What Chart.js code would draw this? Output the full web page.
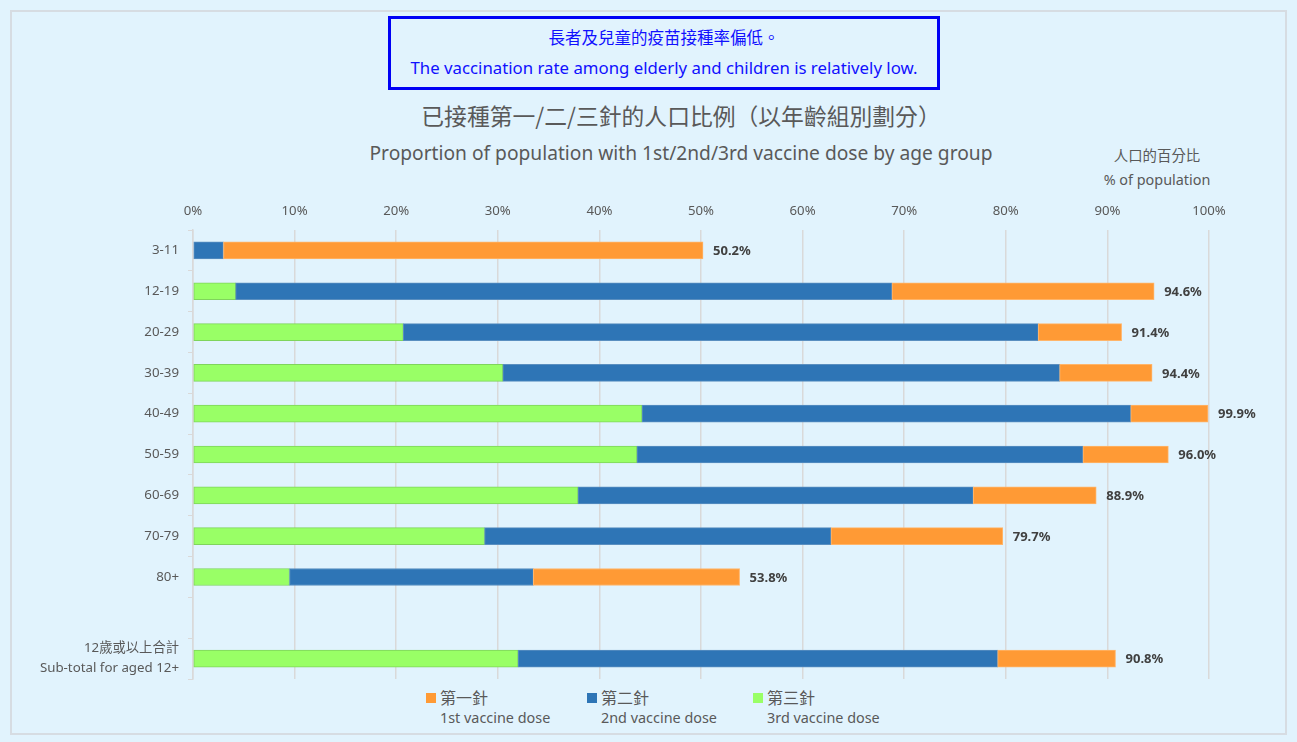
<!DOCTYPE html>
<html>
<head>
<meta charset="utf-8">
<script src="https://cdn.jsdelivr.net/npm/chart.js@4.4.1/dist/chart.umd.min.js"></script>
<style>
  html, body { margin: 0; padding: 0; background: #e1f3fd; }
  body { width: 1297px; height: 742px; position: relative; overflow: hidden;
         font-family: "Noto Sans", "Noto Sans CJK TC", sans-serif; }
  .frame { position: absolute; left: 10px; top: 10px; width: 1273px; height: 721px;
           border: 2px solid #d6dce2; }
  .note { position: absolute; left: 388px; top: 16px; width: 546px; height: 68px;
          border: 3px solid #0000f5; text-align: center; color: #1010ff; }
  .note .l1 { position: absolute; left: 0; right: 0; top: 6px; font-size: 16.5px;
              font-family: "Noto Sans CJK TC", sans-serif; }
  .note .l2 { position: absolute; left: 0; right: 0; top: 37px; font-size: 16.8px; }
  .title { position: absolute; left: 0; width: 1362px; text-align: center; color: #595959; }
  .t1 { top: 99px; font-size: 22.8px; font-family: "Noto Sans CJK TC", sans-serif; }
  .t2 { top: 139px; font-size: 19.2px; }
  .unit { position: absolute; left: 1090px; width: 134px; text-align: center; color: #595959; font-size: 14.4px; }
  .legend { position: absolute; top: 685px; color: #595959; }
  .legend .sq { position: absolute; left: 0; top: 8px; width: 10px; height: 10px; }
  .legend .zh { position: absolute; left: 14px; top: 0; font-size: 16px; white-space: nowrap;
                font-family: "Noto Sans CJK TC", sans-serif; }
  .legend .en { position: absolute; left: 14px; top: 23px; font-size: 14.4px; white-space: nowrap; }
  #wrap { position: absolute; left: 0; top: 190px; width: 1297px; height: 508px; }
</style>
</head>
<body>
<div class="frame"></div>
<div class="note">
  <div class="l1">長者及兒童的疫苗接種率偏低。</div>
  <div class="l2">The vaccination rate among elderly and children is relatively low.</div>
</div>
<div class="title t1">已接種第一/二/三針的人口比例（以年齡組別劃分）</div>
<div class="title t2">Proportion of population with 1st/2nd/3rd vaccine dose by age group</div>
<div class="unit" style="top:144px;font-family:'Noto Sans CJK TC',sans-serif;">人口的百分比</div>
<div class="unit" style="top:170px;">% of population</div>
<div id="legend"></div>
<div id="wrap"><canvas id="chart"></canvas></div>

<script>
// Age groups (blank row before the sub-total)
const categories = ['3-11', '12-19', '20-29', '30-39', '40-49', '50-59', '60-69', '70-79', '80+', '',
    ['12歲或以上合計', 'Sub-total for aged 12+']];

// % of population who received each dose
const firstDose  = [50.2, 94.6, 91.4, 94.4, 99.9, 96.0, 88.9, 79.7, 53.8, null, 90.8];
const secondDose = [3.0, 68.8, 83.2, 85.3, 92.3, 87.6, 76.8, 62.8, 33.5, null, 79.2];
const thirdDose  = [0, 4.2, 20.7, 30.5, 44.2, 43.7, 37.9, 28.7, 9.5, null, 32.0];

const xTicks = [0, 10, 20, 30, 40, 50, 60, 70, 80, 90, 100];

const seriesZh = ['第一針', '第二針', '第三針'];
const seriesEn = ['1st vaccine dose', '2nd vaccine dose', '3rd vaccine dose'];
const colors = ['#ff9a35', '#2e75b6', '#99ff66'];
const borders = ['#ffb56a', '#5a8fc0', '#7fd45c'];

// each dose drawn as a floating bar from the next dose's value up to its own
function span(lo, hi) {
    return hi.map((v, i) => v == null ? null : [lo ? lo[i] : 0, v]);
}
const spans = [span(secondDose, firstDose), span(thirdDose, secondDose), span(null, thirdDose)];

const totalLabels = {
    id: 'totalLabels',
    afterDatasetsDraw(chart) {
        const ctx = chart.ctx;
        const meta = chart.getDatasetMeta(0);
        ctx.save();
        ctx.font = 'bold 13px "Noto Sans", sans-serif';
        ctx.fillStyle = '#404040';
        ctx.textBaseline = 'middle';
        meta.data.forEach((bar, i) => {
            if (firstDose[i] == null) return;
            ctx.fillText(firstDose[i].toFixed(1) + '%', bar.x + 10, bar.y + 1);
        });
        ctx.restore();
    }
};

const chart = new Chart(document.getElementById('chart'), {
    type: 'bar',
    data: {
        labels: categories,
        datasets: spans.map((d, k) => ({
            label: seriesZh[k],
            data: d,
            backgroundColor: colors[k],
            borderColor: borders[k],
            borderWidth: 1,
            borderSkipped: false,
            barThickness: 17,
            grouped: false
        }))
    },
    options: {
        indexAxis: 'y',
        responsive: true,
        maintainAspectRatio: false,
        animation: false,
        layout: { padding: { left: 0, right: 88, top: 0, bottom: 0 } },
        plugins: {
            legend: { display: false },
            tooltip: { enabled: false }
        },
        scales: {
            x: {
                position: 'top',
                min: 0,
                max: 100,
                afterBuildTicks: s => { s.ticks = xTicks.map(v => ({ value: v })); },
                afterFit: s => { s.height = 40; },
                ticks: {
                    callback: v => v + '%',
                    color: '#595959',
                    font: { size: 13.2, family: '"Noto Sans", sans-serif' },
                    padding: 11
                },
                grid: { color: '#d9d9d9', drawTicks: false, lineWidth: 1.5 },
                border: { display: false }
            },
            y: {
                afterFit: s => { s.width = 193; },
                ticks: {
                    autoSkip: false,
                    color: '#595959',
                    font: { size: 13.3, family: '"Noto Sans", "Noto Sans CJK TC", sans-serif', lineHeight: 1.5 },
                    padding: 9
                },
                grid: { display: true, drawOnChartArea: false, color: '#d9d9d9', tickLength: 5, offset: true },
                border: { display: true, color: '#d9d9d9', width: 1.5 }
            }
        }
    },
    plugins: [totalLabels]
});

// two-line legend below the chart
const legendX = [426, 587, 753];
document.getElementById('legend').innerHTML = seriesZh.map((t, k) =>
    '<div class="legend" style="left:' + legendX[k] + 'px">' +
    '<div class="sq" style="background:' + colors[k] + '"></div>' +
    '<div class="zh">' + t + '</div><div class="en">' + seriesEn[k] + '</div></div>'
).join('');
</script>
</body>
</html>
